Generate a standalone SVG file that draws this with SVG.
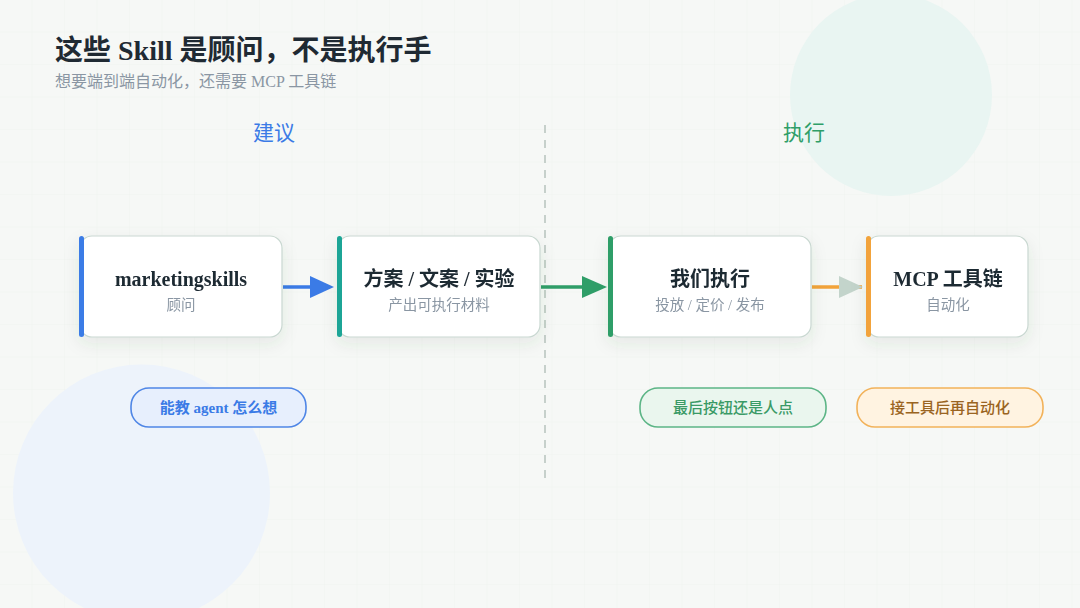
<svg xmlns="http://www.w3.org/2000/svg" width="1080" height="608" viewBox="0 0 1080 608">
<style>
.serif{font-family:"Liberation Serif","Noto Sans CJK SC",serif}
.title{font-size:28px;font-weight:bold;fill:#1f2a33}
.sub{font-size:16px;fill:#8a96a3}
.col{font-size:21px;text-anchor:middle}
.card{fill:#ffffff;stroke:#c9d8d1;stroke-width:1.2}
.nt{font-size:20px;font-weight:bold;fill:#1f2a33;text-anchor:middle}
.ns{font-size:14.5px;fill:#8a96a3;text-anchor:middle}
.pill{stroke-width:1.6}
.pt{font-size:15px;font-weight:500;text-anchor:middle}
</style>
<defs>
<pattern id="grid" width="32.5" height="32.5" patternUnits="userSpaceOnUse">
<path d="M32.5 0V32.5M0 32.5H32.5" fill="none" stroke="#f0f3f0" stroke-width="1"/>
</pattern>
<filter id="sh" x="-20%" y="-20%" width="140%" height="160%">
<feDropShadow dx="0" dy="6" stdDeviation="8" flood-color="#30483c" flood-opacity="0.09"/>
</filter>
</defs>
<rect width="1080" height="608" fill="#f6f8f6"/>
<rect width="1080" height="608" fill="url(#grid)"/>
<circle cx="891" cy="95" r="101" fill="#e9f5f2"/>
<circle cx="141.5" cy="493" r="128.5" fill="#edf3fb"/>

<text class="serif title" x="55" y="60">这些 Skill 是顾问，不是执行手</text>
<text class="serif sub" x="55" y="87">想要端到端自动化，还需要 MCP 工具链</text>

<text class="serif col" x="274" y="140" fill="#3b7be6">建议</text>
<text class="serif col" x="804" y="140" fill="#2f9e68">执行</text>

<line x1="545" y1="125" x2="545" y2="485" stroke="#c6d0cb" stroke-width="2" stroke-dasharray="8 7"/>

<g id="connectors">
<line x1="283" y1="287" x2="312" y2="287" stroke="#3b7be6" stroke-width="3.5"/>
<path d="M310 276L334 287L310 298Z" fill="#3b7be6"/>
<line x1="541" y1="287" x2="584" y2="287" stroke="#2f9e68" stroke-width="3.5"/>
<path d="M582 276L607 287L582 298Z" fill="#2f9e68"/>
<line x1="812" y1="287" x2="862" y2="287" stroke="#f2a33a" stroke-width="3.5"/>
<path d="M839 276L863 287L839 298Z" fill="#c3d4cb"/>
</g>

<g id="node-marketingskills" filter="url(#sh)">
<rect class="card" x="80" y="236" width="202" height="101" rx="12"/>
<rect x="79" y="236" width="5" height="101" rx="2.5" fill="#3b7be6"/>
<text class="serif nt" x="181" y="286">marketingskills</text>
<text class="serif ns" x="181" y="310">顾问</text>
</g>
<g id="node-materials" filter="url(#sh)">
<rect class="card" x="338" y="236" width="202" height="101" rx="12"/>
<rect x="337" y="236" width="5" height="101" rx="2.5" fill="#1aa596"/>
<text class="serif nt" x="439" y="286">方案 / 文案 / 实验</text>
<text class="serif ns" x="439" y="310">产出可执行材料</text>
</g>
<g id="node-we-execute" filter="url(#sh)">
<rect class="card" x="609" y="236" width="202" height="101" rx="12"/>
<rect x="608" y="236" width="5" height="101" rx="2.5" fill="#2f9e68"/>
<text class="serif nt" x="710" y="286">我们执行</text>
<text class="serif ns" x="710" y="310">投放 / 定价 / 发布</text>
</g>
<g id="node-mcp" filter="url(#sh)">
<rect class="card" x="867" y="236" width="161" height="101" rx="12"/>
<rect x="866" y="236" width="5" height="101" rx="2.5" fill="#f2a33a"/>
<text class="serif nt" x="948" y="286">MCP 工具链</text>
<text class="serif ns" x="948" y="310">自动化</text>
</g>

<g id="pill-agent">
<rect class="pill" x="131" y="388" width="175" height="39" rx="18" fill="#e7effd" stroke="#4f86e6"/>
<text class="serif pt" x="218.5" y="413" fill="#3b7be6"><tspan font-weight="bold">能教 agent 怎么想</tspan></text>
</g>
<g id="pill-human">
<rect class="pill" x="640" y="388" width="186" height="39" rx="18" fill="#eaf6ee" stroke="#5cb586"/>
<text class="serif pt" x="733" y="413" fill="#3a9a66">最后按钮还是人点</text>
</g>
<g id="pill-auto">
<rect class="pill" x="857" y="388" width="186" height="39" rx="18" fill="#fff3e1" stroke="#f2b25a"/>
<text class="serif pt" x="950" y="413" fill="#9a6422">接工具后再自动化</text>
</g>
</svg>
